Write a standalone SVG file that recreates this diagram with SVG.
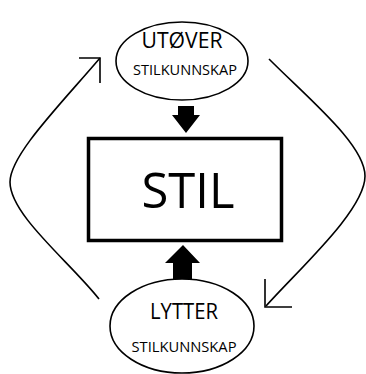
<svg xmlns="http://www.w3.org/2000/svg" width="366" height="374" viewBox="0 0 366 374">
  <style>
    .oval { fill: #fff; stroke: #000; stroke-width: 1.6; }
    .box { fill: #fff; stroke: #000; stroke-width: 3.5; }
    .flow { fill: none; stroke: #000; stroke-width: 1.6; }
    .block { fill: #000; stroke: none; }
    text { font-family: "Open Sans", "Liberation Sans", sans-serif; fill: #000; text-anchor: middle; }
    .big { font-size: 49px; }
    .role { font-size: 21px; }
    .sub { font-size: 14px; }
  </style>
  <rect width="366" height="374" fill="#fff"/>

  <g id="connectors">
    <!-- left loop: listener back up to performer -->
    <path class="flow" d="M99,299 C70,262 10,215 10,182 C10,155 60,105 100,58"/>
    <polyline class="flow" points="79,58 100,58 100,83"/>
    <!-- right loop: performer down to listener -->
    <path class="flow" d="M269,59 C310,100 365,145 365,176 C365,210 300,268 266,306"/>
    <polyline class="flow" points="265,279 265,307 292,307"/>
    <!-- block arrows into the centre box -->
    <polygon class="block" points="178,106 194,106 194,115 200,115 186,133 172,115 178,115"/>
    <polygon class="block" points="173,280 192,280 192,263 200,263 183,245 165,263 173,263"/>
  </g>

  <g id="stil">
    <rect class="box" x="88.5" y="138.5" width="193" height="102"/>
    <text class="big" x="188" y="208" textLength="93" lengthAdjust="spacingAndGlyphs">STIL</text>
  </g>

  <g id="utover">
    <ellipse class="oval" cx="182" cy="61" rx="66" ry="39"/>
    <text class="role" x="182" y="48" textLength="81" lengthAdjust="spacingAndGlyphs">UTØVER</text>
    <text class="sub" x="185" y="75" textLength="104" lengthAdjust="spacingAndGlyphs">STILKUNNSKAP</text>
  </g>

  <g id="lytter">
    <ellipse class="oval" cx="182" cy="326" rx="72" ry="47"/>
    <text class="role" x="184" y="319" textLength="68" lengthAdjust="spacingAndGlyphs">LYTTER</text>
    <text class="sub" x="184" y="352" textLength="105" lengthAdjust="spacingAndGlyphs">STILKUNNSKAP</text>
  </g>
</svg>
